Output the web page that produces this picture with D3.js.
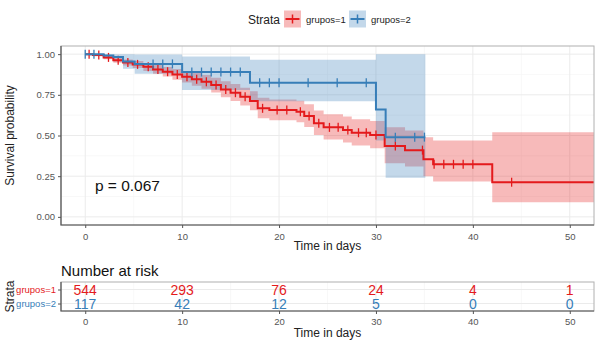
<html>
<head>
<script src="https://d3js.org/d3.v7.min.js"></script>
<style>
  body { margin: 0; background: #fff; }
  text { font-family: "Liberation Sans", Arial, sans-serif; }
  .tick-lbl { font-size: 9.5px; fill: #555; }
  .axis-title { font-size: 12px; fill: #222; }
  .grid-major { stroke: #ebebeb; stroke-width: 1; }
  .grid-minor { stroke: #f4f4f4; stroke-width: 0.6; }
</style>
</head>
<body>
<svg id="chart" width="600" height="345"></svg>
<script>
// ---- data ----
const strata = ["grupos=1", "grupos=2"];
const colors = ["#E41A1C", "#377EB8"];

// grupos=1 step curve
const g1Time  = [0, 0.8, 1.9, 2.9, 3.9, 4.9, 6, 7, 8, 9, 10, 11, 12, 13, 14, 15, 16, 17, 17.8, 19, 21.8, 22.6, 23.6, 24.6, 26.6, 27.5, 29.4, 30.9, 33, 34.9, 35.9, 42];
const g1Surv  = [1, 0.994, 0.98, 0.963, 0.949, 0.937, 0.922, 0.906, 0.892, 0.875, 0.861, 0.845, 0.83, 0.81, 0.783, 0.763, 0.738, 0.712, 0.667, 0.656, 0.646, 0.62, 0.575, 0.55, 0.534, 0.517, 0.503, 0.435, 0.41, 0.354, 0.323, 0.213];
const g1Lower = [1, 0.987, 0.968, 0.947, 0.93, 0.915, 0.897, 0.879, 0.862, 0.842, 0.825, 0.806, 0.788, 0.765, 0.735, 0.712, 0.684, 0.655, 0.606, 0.593, 0.581, 0.552, 0.503, 0.475, 0.457, 0.438, 0.422, 0.33, 0.31, 0.25, 0.217, 0.09];
const g1Upper = [1, 1, 0.992, 0.979, 0.967, 0.958, 0.946, 0.933, 0.921, 0.908, 0.897, 0.884, 0.872, 0.855, 0.834, 0.816, 0.794, 0.772, 0.732, 0.722, 0.714, 0.692, 0.654, 0.631, 0.616, 0.6, 0.589, 0.55, 0.53, 0.49, 0.47, 0.52];
const g1End = 55;
const g1Censor = [0.4, 1.4, 2.4, 3.4, 4.4, 5.4, 6.5, 7.5, 8.5, 9.5, 10.5, 11.5, 12.5, 13.5, 14.5, 15.5, 16.5, 18.3, 19.8, 20.8, 22.2, 23.1, 24.1, 25.2, 26.1, 27.1, 28.2, 29, 30, 32, 34.8, 36, 37, 38, 39, 40, 44];

// grupos=2 step curve
const g2Time  = [0, 1.9, 2.9, 3.9, 5.1, 10, 17, 30, 31];
const g2Surv  = [1, 0.991, 0.982, 0.955, 0.94, 0.89, 0.824, 0.66, 0.49];
const g2Lower = [1, 0.975, 0.955, 0.91, 0.88, 0.78, 0.71, 0.47, 0.24];
const g2Upper = [1, 1, 1, 0.999, 0.998, 0.985, 0.965, 1, 1];
const g2End = 35.1;
const g2Censor = [0, 0.9, 7, 8, 9, 11, 12, 13, 14, 15, 16, 18, 19, 20, 23, 26, 29, 32, 34, 35];

// number at risk
const riskTimes = [0, 10, 20, 30, 40, 50];
const riskG1 = [544, 293, 76, 24, 4, 1];
const riskG2 = [117, 42, 12, 5, 0, 0];

const xTicks = [0, 10, 20, 30, 40, 50];
const yTicks = [0, 0.25, 0.5, 0.75, 1];
const pLabel = "p = 0.067";

// ---- layout ----
const svg = d3.select("#chart");
const panel = { left: 61, right: 594, top: 46, bottom: 225 };
const risk = { top: 282, bottom: 311 };

const x = d3.scaleLinear().domain([-2.5, 52.5]).range([panel.left, panel.right]);
const y = d3.scaleLinear().domain([-0.05, 1.05]).range([panel.bottom, panel.top]);

svg.append("defs").append("clipPath").attr("id", "clip")
  .append("rect")
  .attr("x", panel.left).attr("y", panel.top)
  .attr("width", panel.right - panel.left).attr("height", panel.bottom - panel.top);

// grid
const gGrid = svg.append("g");
const xMinor = xTicks.map(t => t + 5).concat([-5]).filter(t => t > -2.5 && t < 52.5);
const yMinor = [0.125, 0.375, 0.625, 0.875];
gGrid.selectAll(".xm").data(xMinor).enter().append("line").attr("class", "grid-minor")
  .attr("x1", d => x(d)).attr("x2", d => x(d)).attr("y1", panel.top).attr("y2", panel.bottom);
gGrid.selectAll(".ym").data(yMinor).enter().append("line").attr("class", "grid-minor")
  .attr("y1", d => y(d)).attr("y2", d => y(d)).attr("x1", panel.left).attr("x2", panel.right);
gGrid.selectAll(".xg").data(xTicks).enter().append("line").attr("class", "grid-major")
  .attr("x1", d => x(d)).attr("x2", d => x(d)).attr("y1", panel.top).attr("y2", panel.bottom);
gGrid.selectAll(".yg").data(yTicks).enter().append("line").attr("class", "grid-major")
  .attr("y1", d => y(d)).attr("y2", d => y(d)).attr("x1", panel.left).attr("x2", panel.right);

function curveData(times, surv, lo, hi, end) {
  const pts = times.map((t, i) => ({ t, s: surv[i], lo: lo[i], hi: hi[i] }));
  const last = pts[pts.length - 1];
  pts.push({ t: end, s: last.s, lo: last.lo, hi: last.hi });
  return pts;
}
function survAt(times, surv, t) {
  let v = surv[0];
  times.forEach((tt, i) => { if (tt <= t) v = surv[i]; });
  return v;
}

const groups = [
  { data: curveData(g1Time, g1Surv, g1Lower, g1Upper, g1End), times: g1Time, surv: g1Surv, censor: g1Censor },
  { data: curveData(g2Time, g2Surv, g2Lower, g2Upper, g2End), times: g2Time, surv: g2Surv, censor: g2Censor }
];

const area = d3.area().curve(d3.curveStepAfter)
  .x(d => x(d.t)).y0(d => y(d.lo)).y1(d => y(d.hi));
const line = d3.line().curve(d3.curveStepAfter)
  .x(d => x(d.t)).y(d => y(d.s));

const plot = svg.append("g").attr("clip-path", "url(#clip)");
groups.forEach((g, i) => {
  plot.append("path").attr("d", area(g.data))
    .attr("fill", colors[i]).attr("fill-opacity", 0.3);
});
groups.forEach((g, i) => {
  plot.append("path").attr("d", line(g.data))
    .attr("fill", "none").attr("stroke", colors[i]).attr("stroke-width", 2);
  plot.selectAll(null).data(g.censor).enter().append("line")
    .attr("x1", d => x(d)).attr("x2", d => x(d))
    .attr("y1", d => y(survAt(g.times, g.surv, d)) - 4.5)
    .attr("y2", d => y(survAt(g.times, g.surv, d)) + 4.5)
    .attr("stroke", colors[i]).attr("stroke-width", 1.3);
});

// panel border
svg.append("rect").attr("x", panel.left).attr("y", panel.top)
  .attr("width", panel.right - panel.left).attr("height", panel.bottom - panel.top)
  .attr("fill", "none").attr("stroke", "#b0b0b0").attr("stroke-width", 1);
svg.append("path")
  .attr("d", `M${panel.left},${panel.top}V${panel.bottom}H${panel.right}`)
  .attr("fill", "none").attr("stroke", "#555").attr("stroke-width", 1.2);

// axes
const yAxis = svg.append("g").attr("transform", `translate(${panel.left},0)`)
  .call(d3.axisLeft(y).tickValues(yTicks).tickFormat(d3.format(".2f")).tickSize(3).tickPadding(3));
const xAxis = svg.append("g").attr("transform", `translate(0,${panel.bottom})`)
  .call(d3.axisBottom(x).tickValues(xTicks).tickSize(3).tickPadding(5));
[yAxis, xAxis].forEach(a => {
  a.select(".domain").remove();
  a.selectAll(".tick line").attr("stroke", "#555");
  a.selectAll(".tick text").attr("class", "tick-lbl").attr("font-family", null).attr("font-size", null);
});

svg.append("text").attr("class", "axis-title")
  .attr("transform", `translate(14,${(panel.top + panel.bottom) / 2}) rotate(-90)`)
  .attr("text-anchor", "middle").text("Survival probability");
svg.append("text").attr("class", "axis-title")
  .attr("x", (panel.left + panel.right) / 2).attr("y", 250)
  .attr("text-anchor", "middle").text("Time in days");

svg.append("text").attr("x", x(1)).attr("y", 191)
  .attr("font-size", 15.5).attr("fill", "#111").text(pLabel);

// legend
const leg = svg.append("g").attr("transform", "translate(248,19)");
leg.append("text").attr("x", 0).attr("y", 4.5).attr("font-size", 12).attr("fill", "#222").text("Strata");
const legX = [36, 101];
strata.forEach((s, i) => {
  const k = leg.append("g").attr("transform", `translate(${legX[i]},0)`);
  k.append("rect").attr("x", 0).attr("y", -8.5).attr("width", 17).attr("height", 17)
    .attr("fill", colors[i]).attr("fill-opacity", 0.3);
  k.append("line").attr("x1", 1.5).attr("x2", 15.5).attr("y1", 0).attr("y2", 0)
    .attr("stroke", colors[i]).attr("stroke-width", 2);
  k.append("line").attr("x1", 8.5).attr("x2", 8.5).attr("y1", -4.5).attr("y2", 4.5)
    .attr("stroke", colors[i]).attr("stroke-width", 1.5);
  k.append("text").attr("x", 22).attr("y", 3.5).attr("font-size", 9.5).attr("fill", "#222").text(s);
});

// risk table
svg.append("text").attr("x", panel.left).attr("y", 276)
  .attr("font-size", 15).attr("fill", "#111").text("Number at risk");

const ry = d3.scalePoint().domain(strata).range([risk.top + 7.5, risk.bottom - 7.5]);
const rg = svg.append("g");
rg.selectAll(".xg").data(xTicks).enter().append("line").attr("class", "grid-major")
  .attr("x1", d => x(d)).attr("x2", d => x(d)).attr("y1", risk.top).attr("y2", risk.bottom);
rg.selectAll(".xm").data(xMinor).enter().append("line").attr("class", "grid-minor")
  .attr("x1", d => x(d)).attr("x2", d => x(d)).attr("y1", risk.top).attr("y2", risk.bottom);
rg.selectAll(".yg").data(strata).enter().append("line").attr("class", "grid-major")
  .attr("y1", d => ry(d)).attr("y2", d => ry(d)).attr("x1", panel.left).attr("x2", panel.right);

[riskG1, riskG2].forEach((vals, i) => {
  rg.selectAll(null).data(vals).enter().append("text")
    .attr("x", (d, j) => x(riskTimes[j])).attr("y", ry(strata[i]))
    .attr("dy", "0.36em")
    .attr("text-anchor", "middle").attr("font-size", 14).attr("fill", colors[i])
    .text(d => d);
});

rg.append("rect").attr("x", panel.left).attr("y", risk.top)
  .attr("width", panel.right - panel.left).attr("height", risk.bottom - risk.top)
  .attr("fill", "none").attr("stroke", "#b0b0b0").attr("stroke-width", 1);
rg.append("path")
  .attr("d", `M${panel.left},${risk.top}V${risk.bottom}H${panel.right}`)
  .attr("fill", "none").attr("stroke", "#555").attr("stroke-width", 1.2);

const rx = svg.append("g").attr("transform", `translate(0,${risk.bottom})`)
  .call(d3.axisBottom(x).tickValues(xTicks).tickSize(3).tickPadding(4));
const ryAx = svg.append("g").attr("transform", `translate(${panel.left},0)`)
  .call(d3.axisLeft(ry).tickSize(3).tickPadding(2));
[rx, ryAx].forEach(a => {
  a.select(".domain").remove();
  a.selectAll(".tick line").attr("stroke", "#555");
  a.selectAll(".tick text").attr("class", "tick-lbl").attr("font-family", null).attr("font-size", null);
});
ryAx.selectAll(".tick text").style("fill", (d, i) => colors[i]).attr("font-size", 10);

svg.append("text").attr("class", "axis-title")
  .attr("transform", `translate(14,${(risk.top + risk.bottom) / 2}) rotate(-90)`)
  .attr("text-anchor", "middle").text("Strata");
svg.append("text").attr("class", "axis-title")
  .attr("x", (panel.left + panel.right) / 2).attr("y", 337)
  .attr("text-anchor", "middle").text("Time in days");
</script>
</body>
</html>
